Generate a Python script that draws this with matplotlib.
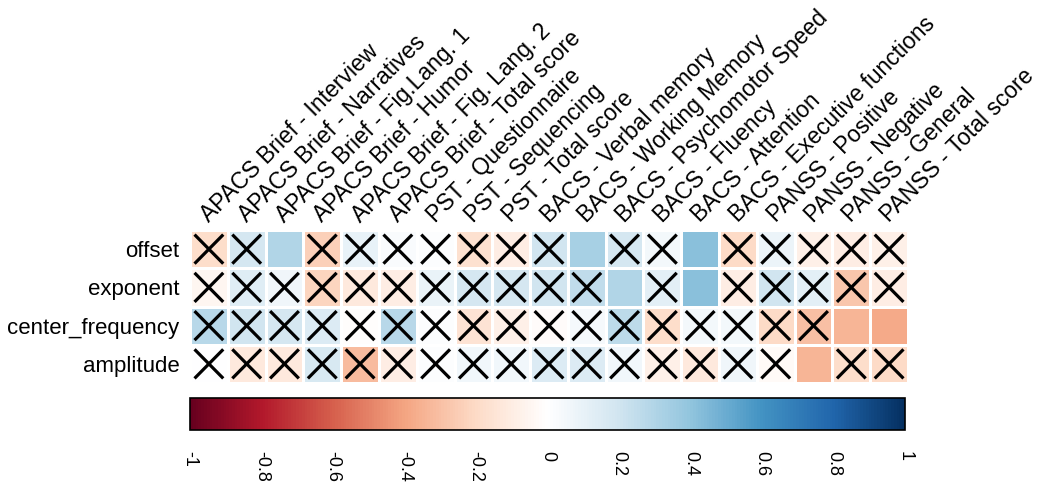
import numpy as np
import matplotlib.pyplot as plt
from matplotlib.colors import LinearSegmentedColormap

plt.rcParams['font.family'] = ['Liberation Sans', 'DejaVu Sans']

# column / row names
cols = ["APACS Brief - Interview", "APACS Brief - Narratives", "APACS Brief - Fig.Lang. 1",
        "APACS Brief - Humor", "APACS Brief - Fig. Lang. 2", "APACS Brief - Total score",
        "PST - Questionnaire", "PST - Sequencing", "PST - Total score",
        "BACS - Verbal memory", "BACS - Working Memory", "BACS - Psychomotor Speed",
        "BACS - Fluency", "BACS - Attention", "BACS - Executive functions",
        "PANSS - Positive", "PANSS - Negative", "PANSS - General", "PANSS - Total score"]
rows = ["offset", "exponent", "center_frequency", "amplitude"]

# correlation values
offset = [-0.18, 0.18, 0.30, -0.24, 0.10, 0.03, 0.01, -0.17, -0.10, 0.20,
          0.33, 0.18, 0.05, 0.42, -0.20, 0.08, -0.08, -0.10, -0.08]
exponent = [-0.05, 0.14, 0.07, -0.22, -0.12, -0.10, 0.09, 0.18, 0.18, 0.20,
            0.25, 0.30, 0.12, 0.42, -0.10, 0.20, 0.12, -0.28, -0.10]
center_frequency = [0.28, 0.20, 0.18, 0.15, -0.01, 0.28, 0.01, -0.15, -0.08, -0.02,
                    0.04, 0.26, -0.18, 0.05, 0.05, -0.20, -0.30, -0.34, -0.38]
amplitude = [0.0, -0.12, -0.12, 0.17, -0.32, -0.10, 0.01, 0.06, 0.06, 0.15,
             0.15, 0.06, -0.08, -0.12, 0.07, -0.03, -0.34, -0.18, -0.20]

# 1 = significant (no cross)
sig_offset = [0, 0, 1, 0, 0, 0, 0, 0, 0, 0, 1, 0, 0, 1, 0, 0, 0, 0, 0]
sig_exponent = [0, 0, 0, 0, 0, 0, 0, 0, 0, 0, 0, 1, 0, 1, 0, 0, 0, 0, 0]
sig_center = [0, 0, 0, 0, 0, 0, 0, 0, 0, 0, 0, 0, 0, 0, 0, 0, 0, 1, 1]
sig_amplitude = [0, 0, 0, 0, 0, 0, 0, 0, 0, 0, 0, 0, 0, 0, 0, 0, 1, 0, 0]

data = np.array([offset, exponent, center_frequency, amplitude])
sig = np.array([sig_offset, sig_exponent, sig_center, sig_amplitude])

cmap = LinearSegmentedColormap.from_list("rdbu", ["#67001F", "#B2182B", "#D6604D", "#F4A582", "#FDDBC7",
                                                  "#FFFFFF", "#D1E5F0", "#92C5DE", "#4393C3", "#2166AC", "#053061"])

fig = plt.figure(figsize=(10.46, 4.84), dpi=100)
W, H = 1046, 484
ax = fig.add_axes([190 / W, 1 - 383 / H, 718 / W, 153 / H])

nr, nc = data.shape
mesh = ax.pcolormesh(np.arange(nc + 1), np.arange(nr + 1), data, cmap=cmap, vmin=-1, vmax=1,
                     edgecolors='white', linewidth=1.0)
ax.set_xlim(0, nc)
ax.set_ylim(nr, 0)

# crosses for non-significant cells
d = 0.38
for i in range(nr):
    for j in range(nc):
        if not sig[i, j]:
            cx, cy = j + 0.5, i + 0.5
            ax.plot([cx - d, cx + d], [cy - d, cy + d], color='black', lw=2.3, solid_capstyle='butt')
            ax.plot([cx - d, cx + d], [cy + d, cy - d], color='black', lw=2.3, solid_capstyle='butt')

for s in ax.spines.values():
    s.set_visible(False)
ax.set_xticks([])
ax.set_yticks(np.arange(nr) + 0.5)
ax.set_yticklabels(rows, fontsize=16)
ax.tick_params(axis='y', length=0, pad=7.5)

for j, name in enumerate(cols):
    ax.text(j + 0.5, -0.18, name, rotation=45, rotation_mode='anchor', ha='left', va='baseline',
            fontsize=16.5, clip_on=False)

# colour bar
cax = fig.add_axes([190 / W, 1 - 430 / H, 715 / W, 32 / H])
cb = fig.colorbar(mesh, cax=cax, orientation='horizontal')
cb.outline.set_linewidth(1.2)
ticks = [-1, -0.8, -0.6, -0.4, -0.2, 0, 0.2, 0.4, 0.6, 0.8, 1]
labels = ["-1", "-0.8", "-0.6", "-0.4", "-0.2", "0", "0.2", "0.4", "0.6", "0.8", "1"]
cax.set_xticks(ticks)
cax.set_xticklabels(labels, fontsize=13)
cax.tick_params(axis='x', length=0, pad=15, labelrotation=-90)
cax.set_xticks([-0.2, 0, 0.2, 0.4, 0.6, 0.8, 1], minor=True)
cax.tick_params(axis='x', which='minor', length=6, width=1.2, direction='out')

fig.savefig("out.png", dpi=100)
